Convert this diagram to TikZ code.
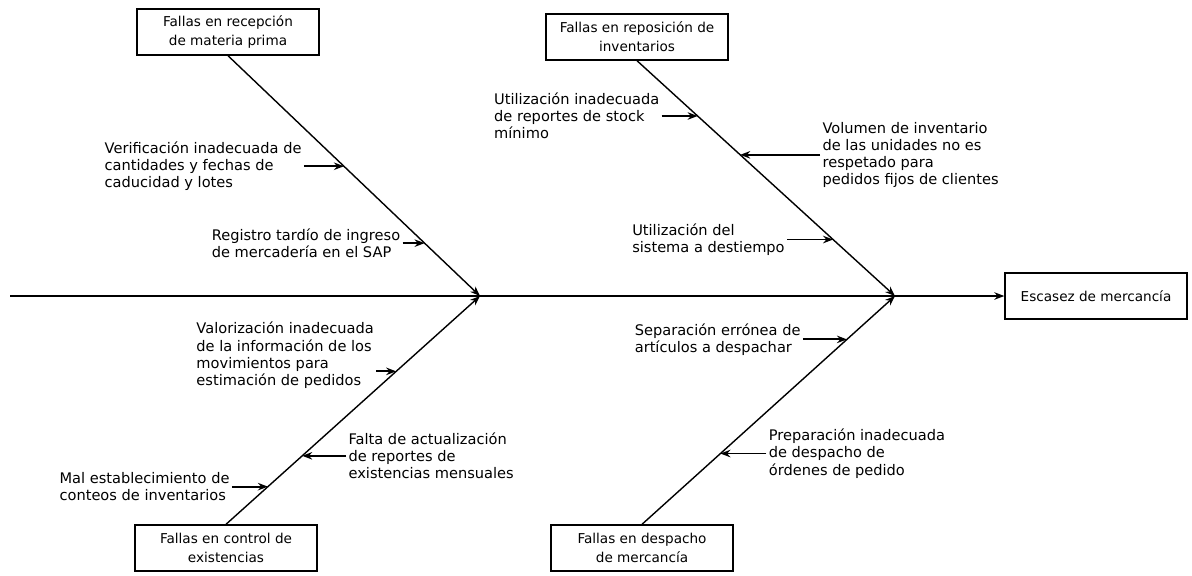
\documentclass[tikz,border=0pt]{standalone}
\usepackage{fontspec}
\setmainfont{DejaVu Sans}
\usetikzlibrary{positioning,arrows.meta,calc}

\begin{document}
\begin{tikzpicture}[x=0.5pt,y=-0.5pt,
  categoria/.style={draw, line width=0.7pt, minimum width=91pt, minimum height=23pt,
    align=center, inner sep=1pt, font=\fontsize{6.8}{9.5}\selectfont},
  causa/.style={align=left, inner sep=1pt, font=\fontsize{7.3}{8.6}\selectfont},
  espina/.style={line width=0.7pt, -{Stealth[length=5pt]}},
  flecha/.style={line width=0.9pt, -{Stealth[length=5pt]}}]
  \useasboundingbox (0,0) rectangle (1192,575);

  % Cabeza del pescado y espina central.
  \node[categoria] (efecto) at (1096,296) {Escasez de mercancía};
  \coordinate (cola) at (10,296);
  \coordinate (j1) at (480,296);
  \coordinate (j2) at (895,296);
  \draw[espina] (cola) -- (efecto.west);

  % Categorías principales.
  \node[categoria] (mp)  at (228,32)  {Fallas en recepción\\de materia prima};
  \node[categoria] (inv) at (637,37)  {Fallas en reposición de\\inventarios};
  \node[categoria] (exi) at (226,548) {Fallas en control de\\existencias};
  \node[categoria] (des) at (642,548) {Fallas en despacho\\de mercancía};

  % Espinas de cada categoría.
  \draw[espina] (mp.south) -- (j1);
  \draw[espina] (inv.south) -- (j2);
  \draw[espina] (exi.north) -- (j1);
  \draw[espina] (des.north) -- (j2);

  % Puntos de llegada de las causas sobre las espinas.
  \coordinate (p1)  at ($(mp.south)!0.46!(j1)$);
  \coordinate (p2)  at ($(mp.south)!0.78!(j1)$);
  \coordinate (p3)  at ($(inv.south)!0.235!(j2)$);
  \coordinate (p4)  at ($(inv.south)!0.40!(j2)$);
  \coordinate (p5)  at ($(inv.south)!0.76!(j2)$);
  \coordinate (p6)  at ($(exi.north)!0.67!(j1)$);
  \coordinate (p7)  at ($(exi.north)!0.30!(j1)$);
  \coordinate (p8)  at ($(exi.north)!0.165!(j1)$);
  \coordinate (p9)  at ($(des.north)!0.81!(j2)$);
  \coordinate (p10) at ($(des.north)!0.31!(j2)$);

  % Causas de la parte superior.
  \node[causa, left=20pt of p1] (c1) {Verificación inadecuada de\\cantidades y fechas de\\caducidad y lotes};
  \node[causa, left=11pt of p2] (c2) {Registro tardío de ingreso\\de mercadería en el SAP};
  \node[causa, left=18pt of p3] (c3) {Utilización inadecuada\\de reportes de stock\\mínimo};
  \node[causa, right=40pt of p4] (c4) {Volumen de inventario\\de las unidades no es\\respetado para\\pedidos fijos de clientes};
  \node[causa, left=23pt of p5] (c5) {Utilización del\\sistema a destiempo};

  % Causas de la parte inferior.
  \node[causa, left=10pt of p6, yshift=8pt] (c6) {Valorización inadecuada\\de la información de los\\movimientos para\\estimación de pedidos};
  \node[causa, right=22pt of p7] (c7) {Falta de actualización\\de reportes de\\existencias mensuales};
  \node[causa, left=18pt of p8] (c8) {Mal establecimiento de\\conteos de inventarios};
  \node[causa, left=22pt of p9] (c9) {Separación errónea de\\artículos a despachar};
  \node[causa, right=23pt of p10] (c10) {Preparación inadecuada\\de despacho de\\órdenes de pedido};

  \foreach \c/\p in {c1/p1,c2/p2,c3/p3,c4/p4,c5/p5,c7/p7,c8/p8,c9/p9,c10/p10}
    \draw[flecha] (\c) -- (\p);
  \draw[flecha] (c6.east |- p6) -- (p6);
\end{tikzpicture}
\end{document}
